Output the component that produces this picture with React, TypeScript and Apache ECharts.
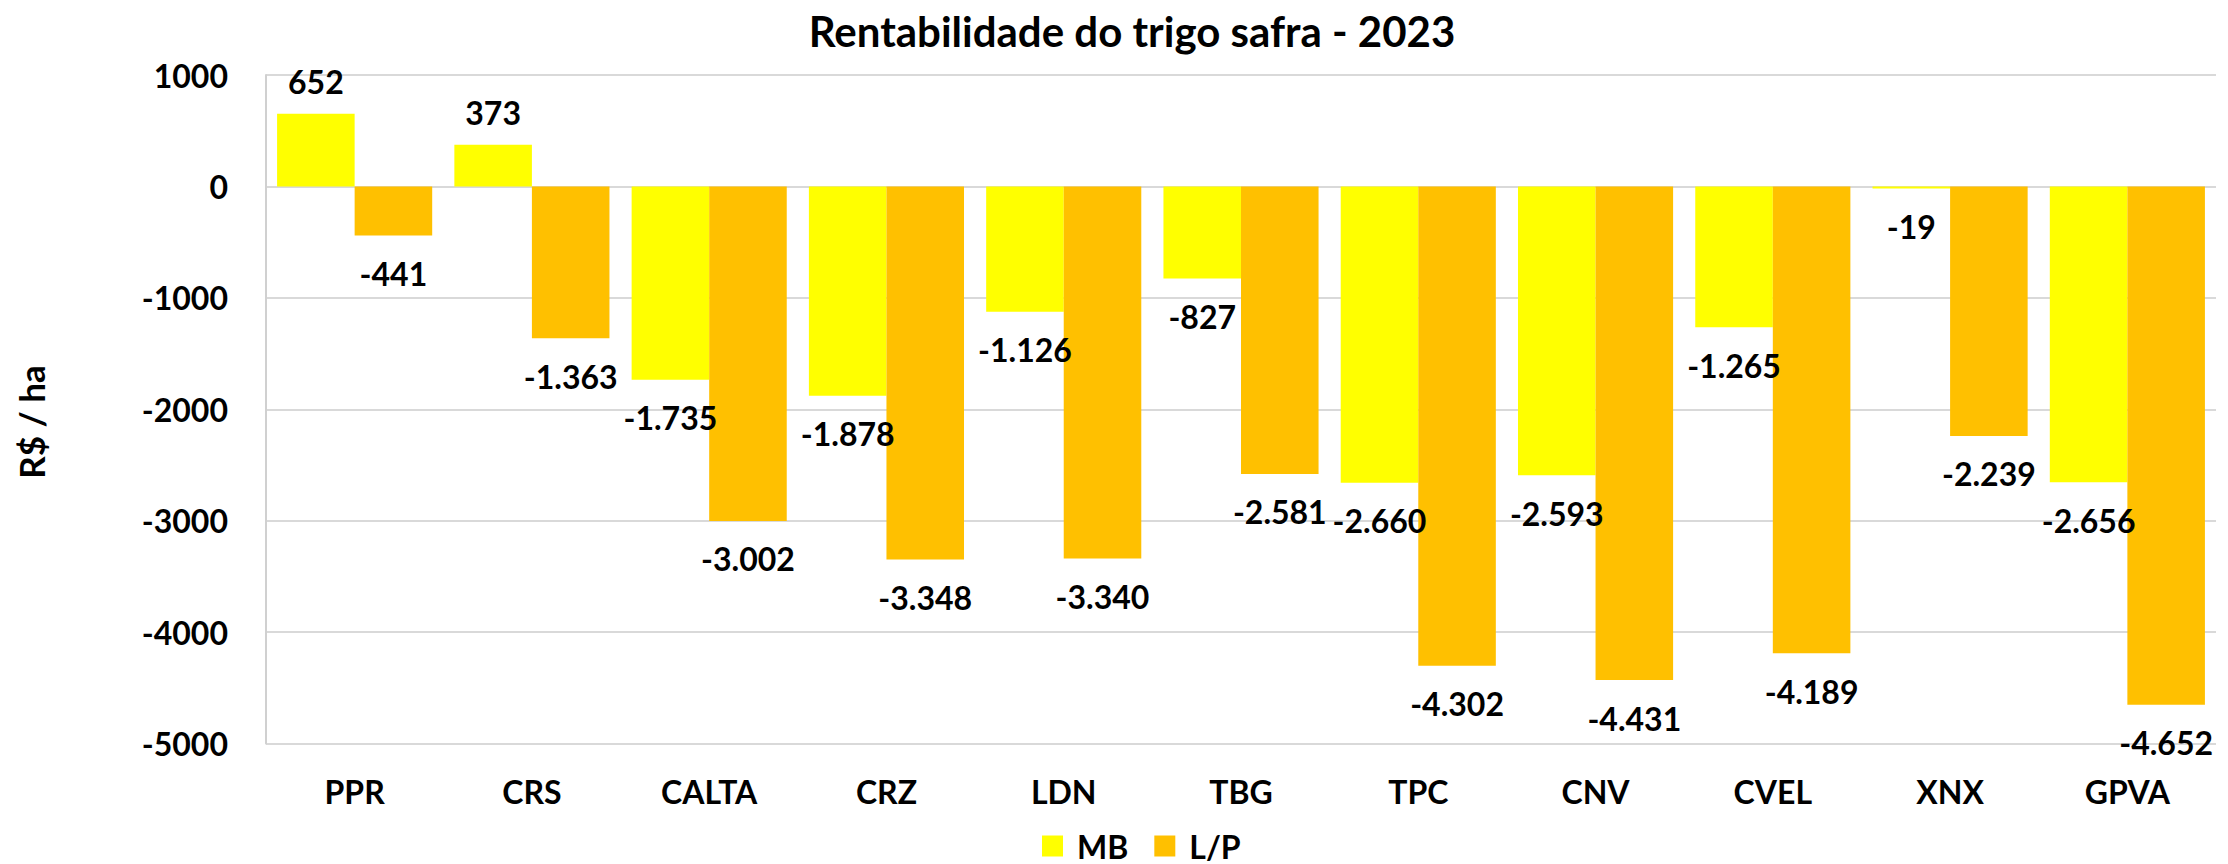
import React, { useEffect, useRef } from "react";
import * as echarts from "echarts";

const categories = ["PPR", "CRS", "CALTA", "CRZ", "LDN", "TBG", "TPC", "CNV", "CVEL", "XNX", "GPVA"];
const mbValues = [652, 373, -1735, -1878, -1126, -827, -2660, -2593, -1265, -19, -2656];
const lpValues = [-441, -1363, -3002, -3348, -3340, -2581, -4302, -4431, -4189, -2239, -4652];
const seriesNames = ["MB", "L/P"];
const titleText = "Rentabilidade do trigo safra - 2023";
const yAxisTitle = "R$ / ha";

const FONT = "Lato, 'Open Sans', sans-serif";

function fmt(v: number): string {
  const sign = v < 0 ? "-" : "";
  const s = String(Math.abs(Math.round(v)));
  return sign + s.replace(/\B(?=(\d{3})+(?!\d))/g, ".");
}

function seriesData(values: number[]) {
  return values.map((v) => ({
    value: v,
    label: {
      position: v >= 0 ? "top" : "bottom",
      distance: v >= 0 ? 16 : 22,
    },
  }));
}

export default function App() {
  const ref = useRef<HTMLDivElement>(null);
  useEffect(() => {
    if (!ref.current) return;
    const chart = echarts.init(ref.current, undefined, { renderer: "svg" });
    const labelStyle = {
      show: true,
      formatter: (p: any) => fmt(p.value),
      color: "#000",
      fontFamily: FONT,
      fontWeight: "bold",
      fontSize: 32,
    };
    chart.setOption({
      animation: false,
      backgroundColor: "#fff",
      graphic: [
        {
          type: "text",
          x: 1132,
          y: 31,
          style: {
            text: titleText,
            fontFamily: FONT,
            fontWeight: "bold",
            fontSize: 42,
            fill: "#000",
            align: "center",
            verticalAlign: "middle",
          },
        },
        {
          type: "text",
          x: 31,
          y: 422,
          rotation: Math.PI / 2,
          style: {
            text: yAxisTitle,
            fontFamily: FONT,
            fontWeight: "bold",
            fontSize: 35,
            fill: "#000",
            align: "center",
            verticalAlign: "middle",
          },
        },
      ],
      legend: {
        data: seriesNames,
        left: 1037,
        top: 825,
        padding: 5,
        itemWidth: 21,
        itemHeight: 21,
        itemGap: 26,
        icon: "rect",
        textStyle: {
          fontFamily: FONT,
          fontWeight: "bold",
          fontSize: 32,
          lineHeight: 28,
          color: "#000",
          padding: [0, 0, 0, 9],
        },
      },
      grid: {
        left: 266,
        right: 12,
        top: 75,
        bottom: 120.5,
        containLabel: false,
      },
      xAxis: {
        type: "category",
        data: categories,
        position: "bottom",
        axisLine: { show: false },
        axisTick: { show: false },
        axisLabel: {
          margin: 32,
          fontFamily: FONT,
          fontWeight: "bold",
          fontSize: 32,
          color: "#000",
          interval: 0,
        },
      },
      yAxis: {
        type: "value",
        min: -5000,
        max: 1000,
        interval: 1000,
        axisLine: { show: true, lineStyle: { color: "#d0d0d0", width: 2 } },
        axisTick: { show: false },
        splitLine: { show: true, lineStyle: { color: "#d9d9d9", width: 2 } },
        axisLabel: {
          margin: 38,
          formatter: (v: number) => String(v),
          fontFamily: FONT,
          fontWeight: "bold",
          fontSize: 32,
          color: "#000",
        },
      },
      series: [
        {
          name: seriesNames[0],
          type: "bar",
          data: seriesData(mbValues),
          itemStyle: { color: "#FFFF00" },
          barGap: "0%",
          barCategoryGap: "12.5%",
          label: labelStyle,
        },
        {
          name: seriesNames[1],
          type: "bar",
          data: seriesData(lpValues),
          itemStyle: { color: "#FFC000" },
          barGap: "0%",
          barCategoryGap: "12.5%",
          label: labelStyle,
        },
      ],
    });
    return () => chart.dispose();
  }, []);
  return (
    <div
      ref={ref}
      style={{ position: "absolute", left: 0, top: 0, width: 2228, height: 864 }}
    />
  );
}
